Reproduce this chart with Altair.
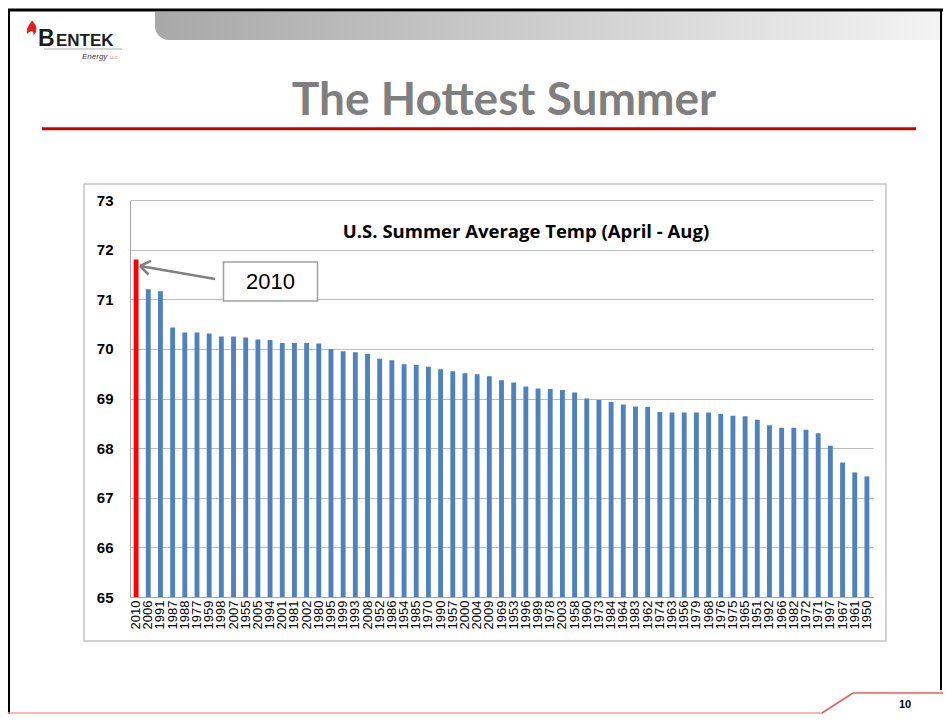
import altair as alt
import pandas as pd

years = ["2010","2006","1991","1987","1988","1977","1959","1998","2007","1955",
         "2005","1994","2001","1981","2002","1980","1995","1999","1993","2008",
         "1952","1986","1954","1985","1970","1990","1957","2000","2004","2009",
         "1969","1953","1996","1989","1978","2003","1958","1960","1973","1984",
         "1964","1983","1962","1974","1963","1956","1979","1968","1976","1975",
         "1965","1951","1992","1966","1982","1972","1971","1997","1967","1961","1950"]
temps = [71.80, 71.20, 71.16, 70.43, 70.33, 70.33, 70.31, 70.25, 70.25, 70.23,
         70.19, 70.18, 70.12, 70.12, 70.12, 70.11, 70.00, 69.95, 69.93, 69.90,
         69.80, 69.77, 69.69, 69.68, 69.64, 69.59, 69.55, 69.51, 69.49, 69.45,
         69.37, 69.32, 69.24, 69.20, 69.19, 69.17, 69.12, 69.00, 68.97, 68.93,
         68.88, 68.84, 68.83, 68.73, 68.72, 68.72, 68.72, 68.72, 68.69, 68.65,
         68.64, 68.57, 68.46, 68.41, 68.41, 68.37, 68.30, 68.05, 67.71, 67.51, 67.43]
y_ticks = [65, 66, 67, 68, 69, 70, 71, 72, 73]
highlight_year = "2010"

slide_title = "The Hottest Summer"
chart_title = "U.S. Summer Average Temp (April - Aug)"
page_number = "10"

df = pd.DataFrame({"year": years, "temp": temps})
one = pd.DataFrame({"k": [0]})

# page coords -> plot coords (plot origin at page (130, 200))
def px(v):
    return v - 130

def py(v):
    return v - 200

def rule(x1, y1, x2, y2, color, w):
    return alt.Chart(one).mark_rule(color=color, strokeWidth=w).encode(
        x=alt.value(px(x1)), y=alt.value(py(y1)),
        x2=alt.value(px(x2)), y2=alt.value(py(y2)))

def text(t, x, y, **kw):
    kw.setdefault("baseline", "alphabetic")
    return alt.Chart(pd.DataFrame({"t": [t]})).mark_text(**kw).encode(
        x=alt.value(px(x)), y=alt.value(py(y)), text="t:N")

chart_box = alt.Chart(one).mark_rect(fill="transparent", stroke="#c4c4c4", strokeWidth=1.5).encode(
    x=alt.value(px(84)), x2=alt.value(px(886)), y=alt.value(py(184)), y2=alt.value(py(641)))

banner = alt.Chart(one).mark_rect(
    fill=alt.LinearGradient(gradient="linear",
                            stops=[alt.GradientStop(color="#a8a8a8", offset=0),
                                   alt.GradientStop(color="#d6d6d6", offset=0.6),
                                   alt.GradientStop(color="#f4f4f4", offset=1)],
                            x1=0, x2=1, y1=0, y2=0),
    cornerRadiusBottomLeft=26).encode(
    x=alt.value(px(155)), x2=alt.value(px(951)), y=alt.value(py(12)), y2=alt.value(py(40)))

flame = alt.Chart(one).mark_point(
    shape="M0,-1 C0.6,-0.4 0.9,0.3 0.2,1 C0.3,0.4 -0.2,0.2 -0.6,0.8 C-0.9,0.2 -0.4,-0.4 0,-1 Z",
    filled=True, color="#e02020", opacity=1, size=220).encode(
    x=alt.value(px(32)), y=alt.value(py(28)))

bars = alt.Chart(df).mark_bar().encode(
    x=alt.X("year:N", sort=None,
            scale=alt.Scale(paddingInner=0.6, paddingOuter=0.3),
            axis=alt.Axis(title=None, labelAngle=270, labelFont="Liberation Sans",
                          labelFontSize=13, labelColor="black", ticks=False,
                          domainColor="#a6a6a6", labelPadding=3, grid=False)),
    y=alt.Y("temp:Q", scale=alt.Scale(domain=[65, 73], zero=False, nice=False),
            axis=alt.Axis(title=None, values=y_ticks, grid=True, gridColor="#bdbdbd",
                          ticks=False, domainColor="#a6a6a6", labelFont="Liberation Sans",
                          labelFontWeight="bold", labelFontSize=15, labelColor="black",
                          labelPadding=17)),
    y2=alt.datum(65),
    color=alt.condition(alt.datum.year == highlight_year, alt.value("#ff0000"), alt.value("#4f81bd")),
)

ann_box = alt.Chart(one).mark_rect(fill="white", stroke="#a0a0a0", strokeWidth=1.5).encode(
    x=alt.value(px(223.5)), x2=alt.value(px(317.5)), y=alt.value(py(262)), y2=alt.value(py(301)))

layers = [
    chart_box,
    banner,
    rule(0, 10, 951, 10, "black", 3),
    rule(9, 10, 9, 720, "black", 2),
    rule(941, 10, 941, 690, "black", 2),
    flame,
    text("B", 38, 46, font="Liberation Sans", fontWeight="bold", fontSize=23, color="#1c1c1c", align="left"),
    text("ENTEK", 56, 46, font="Liberation Sans", fontWeight="bold", fontSize=17, color="#1c1c1c", align="left"),
    rule(44, 49, 122, 49, "#c8c8c8", 1.5),
    text("Energy", 82, 59, font="Liberation Sans", fontStyle="italic", fontSize=8, color="#444444", align="left"),
    text("LLC", 110, 59, font="Liberation Sans", fontSize=4, color="#666666", align="left"),
    text(slide_title, 504, 115, font="Lato", fontWeight="bold", fontSize=46, color="#7f7f7f", align="center"),
    rule(42, 128.7, 916, 128.7, "#cc0000", 3),
    bars,
    text(chart_title, 526, 232, font="Open Sans", fontWeight="bold", fontSize=18.5, color="black",
         align="center", baseline="middle"),
    ann_box,
    text("2010", 270.5, 282, font="Liberation Sans", fontSize=22, color="black",
         align="center", baseline="middle"),
    rule(215, 279, 140, 266, "#808080", 2.5),
    rule(140, 266, 148.5, 274.5, "#808080", 2.5),
    rule(140, 266, 150.9, 260.9, "#808080", 2.5),
    rule(5, 713, 822, 713, "#f0a0a0", 1.5),
    rule(822, 713, 853, 693, "#e06060", 1.5),
    rule(853, 693, 951, 693, "#e06060", 1.5),
    text(page_number, 905, 708, font="Liberation Sans", fontWeight="bold", fontSize=11, color="black",
         align="center"),
]

chart = alt.layer(*layers).properties(
    width=743, height=397,
    autosize=alt.AutoSizeParams(type="none"),
    padding={"left": 122, "top": 192, "right": 70, "bottom": 117},
).configure_view(strokeWidth=0)

chart.save("out.html", embed_options={"renderer": "svg", "actions": False})
